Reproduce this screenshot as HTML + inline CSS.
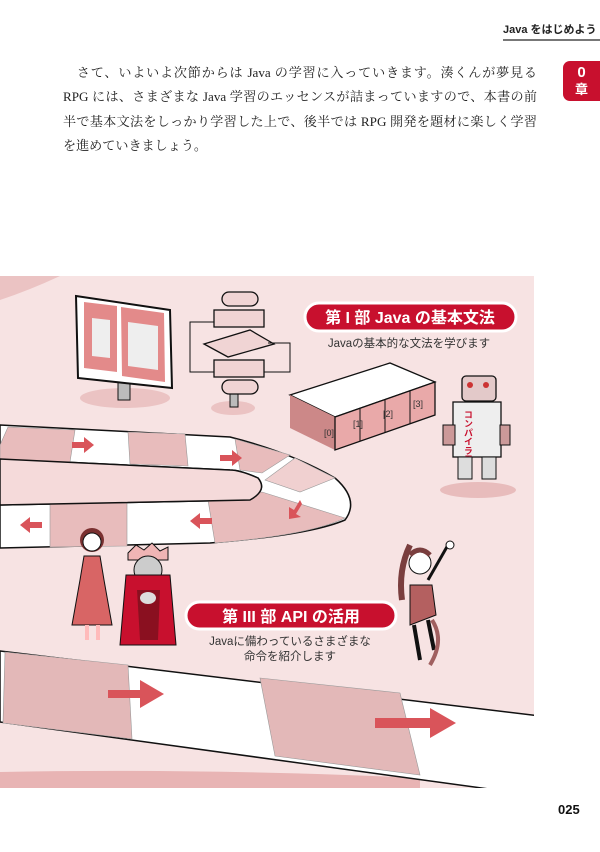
<!DOCTYPE html>
<html><head><meta charset="utf-8"><style>
body{margin:0;width:600px;height:852px;background:#fff;position:relative;overflow:hidden;font-family:"Liberation Sans","Noto Sans CJK JP",sans-serif}
.hdr{position:absolute;left:503px;top:21px;font-size:11px;font-weight:bold;color:#222;white-space:nowrap}
.hline{position:absolute;left:503px;top:39px;width:97px;height:2px;background:#777}
.tab{position:absolute;left:563px;top:61px;width:37px;height:40px;background:#c8102e;border-radius:7px 0 0 7px;color:#fff;text-align:center;font-weight:bold;font-size:15px;line-height:17px;padding-top:3px;box-sizing:border-box}
.body{position:absolute;left:63px;top:61px;width:474px;font-family:"Liberation Serif","Noto Serif CJK SC",serif;font-size:13.1px;line-height:24.3px;color:#222;text-align:justify;text-align-last:justify}
.body .l{display:block;white-space:nowrap}
.pg{position:absolute;left:558px;top:802px;font-size:13px;font-weight:bold;color:#111}
</style></head><body>
<div class="hdr">Java をはじめよう</div><div class="hline"></div>
<div class="tab">0<br><span style="font-size:13px">章</span></div>
<div class="body"><span class="l">　さて、いよいよ次節からは Java の学習に入っていきます。湊くんが夢見る</span><span class="l">RPG には、さまざまな Java 学習のエッセンスが詰まっていますので、本書の前</span><span class="l">半で基本文法をしっかり学習した上で、後半では RPG 開発を題材に楽しく学習</span><span class="l" style="text-align-last:left">を進めていきましょう。</span></div>
<svg style="position:absolute;left:0;top:0" width="600" height="852">
<defs><clipPath id="c"><rect x="0" y="276" width="534" height="512"/></clipPath></defs>
<g clip-path="url(#c)">
<rect x="0" y="276" width="534" height="512" fill="#f7e3e3"/>
<path d="M0 276 L60 276 Q30 290 0 300Z" fill="#ebc3c3"/>
<path d="M0 772 Q200 768 420 778 L420 790 L0 790Z" fill="#e8b4b4"/>
<path d="M0 425 L230 437 Q290 452 335 478 Q360 500 345 520 Q310 535 210 543 L0 548 L0 505 L250 500 Q268 490 258 478 Q240 470 230 470 L0 459Z" fill="#fff" stroke="#111" stroke-width="1.5"/>
<g fill="#e8bcbc" stroke="#999" stroke-width="0.6">
<path d="M8 427 L75 430 L70 462 L0 460 L0 445Z"/><path d="M128 432 L185 434 L188 466 L130 464Z"/><path d="M235 439 L290 455 L262 473 L240 470Z"/>
<path d="M295 458 L335 478 L300 492 L265 480Z" fill="#f0d0d0"/>
<path d="M50 504 L127 503 L127 546 L50 547Z"/><path d="M208 500 L262 492 L345 518 Q310 535 215 543Z"/>
</g>
<path d="M250 500 Q268 490 258 478 Q240 470 230 470 L0 459 L0 505Z" fill="#f5dada" stroke="#111" stroke-width="1.5"/>
<g fill="#d9545a">
<path d="M72 442 h12 v-5 l10 8 -10 8 v-5 h-12z"/><path d="M220 455 h12 v-5 l10 8 -10 8 v-5 h-12z"/>
<path d="M42 522 h-12 v-5 l-10 8 10 8 v-5 h12z"/><path d="M212 518 h-12 v-5 l-10 8 10 8 v-5 h12z"/>
<path d="M300 500 l-6 10 -5 -3 0 12 12 -2 -5 -3 6 -10z"/>
</g>
<path d="M0 651 L540 716 L540 796 L0 722Z" fill="#fff" stroke="#111" stroke-width="1.5"/>
<path d="M5 652 L128 665 L132 739 L3 723Z" fill="#e3b8b8" stroke="#999" stroke-width="0.6"/>
<path d="M260 678 L400 693 L420 775 L275 756Z" fill="#e3b8b8" stroke="#999" stroke-width="0.6"/>
<g fill="#d9545a"><path d="M108 690 h32 v-10 l24 14 -24 14 v-10 h-32z"/><path d="M375 718 h55 v-10 l26 15 -26 15 v-10 h-55z"/></g>
</g>
<ellipse cx="125" cy="398" rx="45" ry="10" fill="#ebc3c3"/>
<rect x="118" y="375" width="12" height="25" fill="#bbb" stroke="#111"/>
<path d="M76 296 L170 310 L172 388 L78 378Z" fill="#fff" stroke="#111" stroke-width="2"/>
<path d="M84 302 L117 306 L117 372 L84 368Z M121 307 L164 313 L165 382 L122 376Z" fill="#e38a8a"/>
<path d="M92 318 L110 320 L110 358 L92 356Z M128 322 L158 326 L158 370 L128 366Z" fill="#eee"/>
<ellipse cx="233" cy="408" rx="22" ry="7" fill="#ebc3c3"/>
<rect x="230" y="385" width="8" height="22" fill="#bbb" stroke="#111"/>
<g fill="#f0d4d4" stroke="#111" stroke-width="1.3">
<rect x="222" y="292" width="36" height="14" rx="7"/><rect x="214" y="310" width="50" height="17"/>
<path d="M204 344 L250 330 L274 344 L228 357Z"/><rect x="214" y="360" width="50" height="17"/><rect x="222" y="380" width="36" height="14" rx="7"/>
</g>
<path d="M214 322 H190 V372 H214 M268 343 H290 V372 H264" fill="none" stroke="#111"/>
<path d="M290 395 L390 363 L435 382 L335 417Z" fill="#fff" stroke="#111" stroke-width="1.3"/>
<path d="M290 395 L335 417 L335 450 L290 428Z" fill="#c88"/>
<path d="M335 417 L435 382 L435 415 L335 450Z" fill="#e9a9a9" stroke="#111" stroke-width="1.3"/>
<g stroke="#111"><line x1="360" y1="408" x2="360" y2="441"/><line x1="385" y1="400" x2="385" y2="432"/><line x1="410" y1="391" x2="410" y2="424"/></g>
<g font-size="9" fill="#333"><text x="324" y="436">[0]</text><text x="353" y="427">[1]</text><text x="383" y="417">[2]</text><text x="413" y="407">[3]</text></g>
<ellipse cx="478" cy="490" rx="38" ry="8" fill="#e8bcbc"/>
<rect x="462" y="376" width="34" height="25" rx="4" fill="#e3c9c9" stroke="#111" stroke-width="1.3"/>
<circle cx="470" cy="385" r="3" fill="#c33"/><circle cx="486" cy="385" r="3" fill="#c33"/>
<rect x="453" y="402" width="48" height="55" fill="#eee" stroke="#111" stroke-width="1.3"/>
<text x="468" y="410" font-size="9" fill="#c8102e" font-weight="bold" writing-mode="tb">コンパイラ君</text>
<rect x="443" y="425" width="12" height="20" fill="#c99" stroke="#111"/><rect x="500" y="425" width="10" height="20" fill="#c99" stroke="#111"/>
<rect x="458" y="457" width="14" height="22" fill="#ddd" stroke="#111"/><rect x="482" y="457" width="14" height="22" fill="#ddd" stroke="#111"/>
<circle cx="92" cy="540" r="12" fill="#7a3030"/><circle cx="92" cy="542" r="9" fill="#fff" stroke="#111"/>
<path d="M84 556 L100 556 L104 580 L112 625 L72 625 L80 580Z" fill="#d86565" stroke="#111"/>
<rect x="85" y="625" width="4" height="15" fill="#fbb"/><rect x="96" y="625" width="4" height="15" fill="#fbb"/>
<path d="M128 553 L136 545 L144 550 L152 543 L160 551 L168 547 L168 560 L128 560Z" fill="#f0b5b5" stroke="#111"/>
<circle cx="148" cy="570" r="14" fill="#ccc" stroke="#111"/>
<path d="M126 575 L170 575 L176 645 L120 645Z" fill="#c8102e" stroke="#111"/>
<path d="M137 590 L160 590 L158 640 L140 640Z" fill="#8a1020"/>
<ellipse cx="148" cy="598" rx="8" ry="6" fill="#ddd"/>
<path d="M410 545 Q398 570 402 600" stroke="#7a3e3e" stroke-width="6" fill="none"/>
<circle cx="420" cy="563" r="11" fill="#fff" stroke="#111"/>
<path d="M410 555 Q420 545 430 555" stroke="#7a3e3e" stroke-width="5" fill="none"/>
<path d="M428 580 L448 545" stroke="#111" stroke-width="3"/><circle cx="450" cy="545" r="4" fill="#fff" stroke="#111"/>
<path d="M410 585 L432 585 L436 615 L410 625Z" fill="#b46060" stroke="#111"/>
<path d="M414 625 L420 660 M428 620 L434 650" stroke="#111" stroke-width="4"/>
<path d="M432 620 Q445 640 430 665" stroke="#a06060" stroke-width="4" fill="none"/>
<rect x="305" y="303" width="211" height="28" rx="14" fill="#c8102e" stroke="#fff" stroke-width="3"/>
<text x="410" y="323" text-anchor="middle" font-size="16" font-weight="bold" fill="#fff">第 I 部 Java の基本文法</text>
<text x="409" y="347" text-anchor="middle" font-size="11.5" fill="#333">Javaの基本的な文法を学びます</text>
<rect x="186" y="602" width="210" height="27" rx="13.5" fill="#c8102e" stroke="#fff" stroke-width="3"/>
<text x="291" y="622" text-anchor="middle" font-size="16" font-weight="bold" fill="#fff">第 III 部 API の活用</text>
<text x="290" y="645" text-anchor="middle" font-size="11.5" fill="#333">Javaに備わっているさまざまな</text>
<text x="290" y="660" text-anchor="middle" font-size="11.5" fill="#333">命令を紹介します</text>
</svg>
<div class="pg">025</div>
</body></html>
